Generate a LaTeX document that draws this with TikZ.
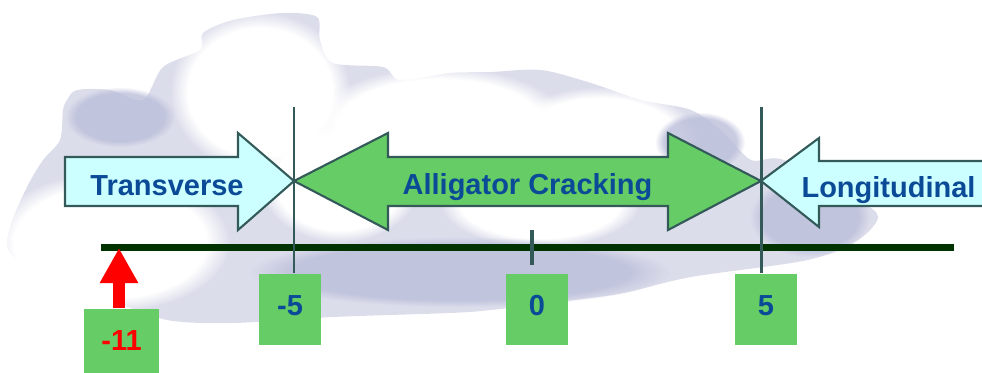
\documentclass[tikz,border=0pt]{standalone}
\usepackage{fontspec}
\setmainfont{Liberation Sans}
\usetikzlibrary{arrows.meta,fadings}
\definecolor{txtblue}{HTML}{0B4A96}
\definecolor{boxgreen}{HTML}{66CC66}
\definecolor{palecyan}{HTML}{CCFFFF}
\definecolor{edgegray}{HTML}{335959}
\definecolor{axisgreen}{HTML}{003300}
\definecolor{cloudgray}{HTML}{DCDDEB}
\definecolor{cloudshade}{HTML}{BBBEDA}

\begin{document}
\begin{tikzpicture}[
  lbl/.style={font=\fontsize{8.25}{10}\selectfont\bfseries,text=txtblue,anchor=base,inner sep=0pt},
  numbox/.style={fill=boxgreen,minimum width=.62cm,minimum height=.71cm,inner sep=0pt,
    text height=.2cm,text depth=.08cm,font=\fontsize{8.25}{10}\selectfont\bfseries,text=txtblue},
  arrowshape/.style={draw=edgegray,line width=.6pt},
  vline/.style={edgegray,line width=.85pt},
  puff/.style={white,path fading=circle with fuzzy edge 20 percent},
  shadepuff/.style={cloudshade,opacity=.8,path fading=circle with fuzzy edge 20 percent}]
 \clip (0,0) rectangle (9.82,3.72);
 % cloud
 \fill[cloudgray] plot[smooth cycle,tension=.5] coordinates {
   (0.67,2.72) (0.77,2.82) (1.10,2.82) (1.43,2.72) (1.63,3.05) (2.00,3.22)
   (2.03,3.39) (2.33,3.52) (2.83,3.59) (3.17,3.55) (3.20,3.32) (3.33,3.09)
   (3.83,3.05) (4.00,2.92) (4.50,2.99) (4.91,3.00) (5.41,3.02) (5.91,2.89)
   (6.41,2.72) (6.91,2.62) (7.24,2.39) (7.51,2.12) (7.84,2.12) (8.58,1.72)
   (8.78,1.55) (8.58,1.32) (8.08,1.12) (6.91,0.95) (6.24,0.79) (5.74,0.72)
   (4.91,0.62) (4.50,0.59) (3.33,0.55) (2.33,0.49) (1.67,0.52) (1.10,0.72)
   (0.50,0.95) (0.10,1.19) (0.10,1.45) (0.27,1.85) (0.43,2.12) (0.60,2.32)
   (0.63,2.62)};
 \fill[puff] (2.6,2.8) ellipse (.9 and .8);
 \fill[puff] (4.4,2.45) ellipse (1.3 and .6);
 \fill[puff] (6.0,2.3) ellipse (1.0 and .55);
 \fill[puff] (1.1,1.3) ellipse (1.2 and .7);
 \fill[puff] (3.4,1.9) ellipse (.8 and .6);
 \fill[puff] (5.4,1.7) ellipse (1.0 and .45);
 \fill[shadepuff] (1.2,2.55) ellipse (.55 and .3);
 \fill[shadepuff] (4.6,1.0) ellipse (2.1 and .35);
 \fill[shadepuff] (8.1,1.55) ellipse (.6 and .4);
 \fill[shadepuff] (7.0,2.3) ellipse (.45 and .3);
 % axis
 \coordinate (axL) at (1.01,1.245);
 \coordinate (axR) at (9.54,1.245);
 \draw[axisgreen,line width=.07cm] (axL) -- (axR);
 \draw[edgegray,line width=.04cm] (5.32,1.07) -- (5.32,1.42);
 % arrows
 \coordinate (tipL) at (2.94,1.91);
 \coordinate (tipR) at (7.61,1.91);
 \filldraw[arrowshape,fill=palecyan] (0.65,2.15) -- (2.38,2.15) -- (2.38,2.39) -- (tipL)
   -- (2.38,1.42) -- (2.38,1.66) -- (0.65,1.66) -- cycle;
 \filldraw[arrowshape,fill=boxgreen] (tipL) -- (3.88,2.39) -- (3.88,2.15) -- (6.68,2.15)
   -- (6.68,2.39) -- (tipR) -- (6.68,1.42) -- (6.68,1.66) -- (3.88,1.66) -- (3.88,1.42) -- cycle;
 \filldraw[arrowshape,fill=palecyan] (tipR) -- (8.19,2.34) -- (8.19,2.11) -- (10.1,2.11)
   -- (10.1,1.66) -- (8.19,1.66) -- (8.19,1.45) -- cycle;
 \node[lbl] (trans) at (1.67,1.77) {Transverse};
 \node[lbl] (allig) at (5.275,1.78) {Alligator Cracking};
 \node[lbl] (longi) at (8.885,1.75) {Longitudinal};
 % scale boxes
 \node[numbox] (bm5) at (2.90,0.625) {-5};
 \node[numbox] (b0) at (5.37,0.625) {0};
 \node[numbox] (b5) at (7.66,0.625) {5};
 \node[numbox,minimum width=.75cm,text=red] (bm11) at (1.215,0.275) {-11};
 \coordinate (top) at (0,2.65);
 \draw[vline] (tipL |- bm5.north) -- (tipL |- top);
 \draw[vline] (tipR |- b5.north) -- (tipR |- top);
 % red marker
 \coordinate (hit) at (1.19,1.24);
 \draw[red,line width=.12cm,-{Triangle[length=.35cm,width=.36cm]}] (hit |- bm11.north) -- (hit);
\end{tikzpicture}
\end{document}
